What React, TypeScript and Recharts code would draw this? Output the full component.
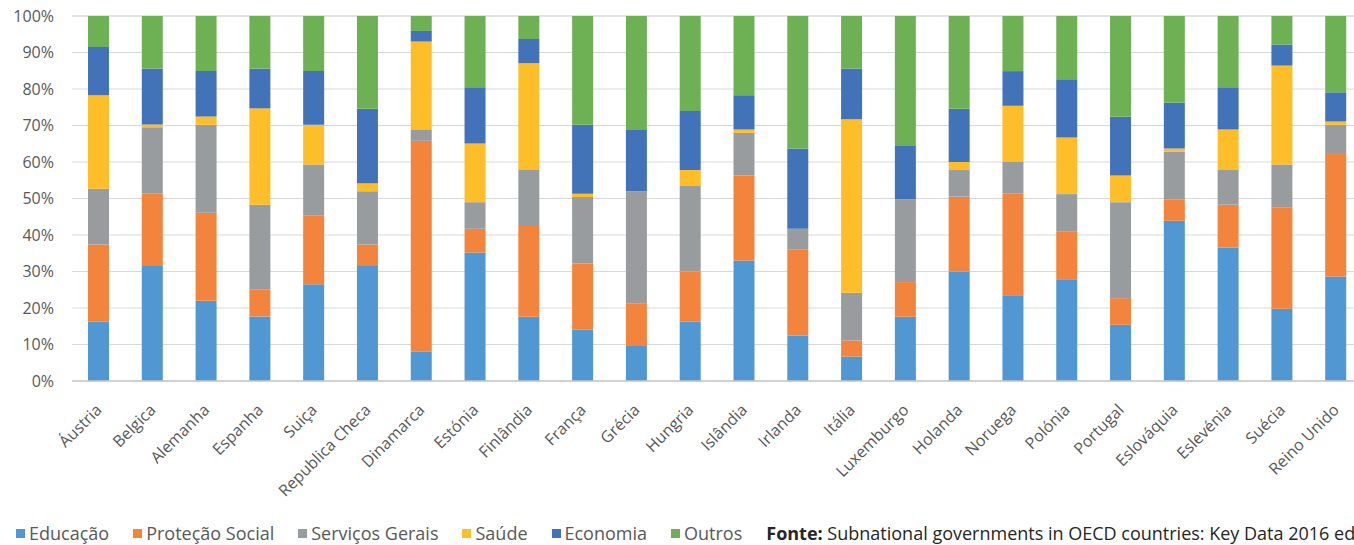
import React from 'react';
import { BarChart, Bar, XAxis, YAxis, CartesianGrid, Legend } from 'recharts';

const countries = [
  'Áustria', 'Belgica', 'Alemanha', 'Espanha', 'Suiça', 'Republica Checa', 'Dinamarca', 'Estónia',
  'Finlândia', 'França', 'Grécia', 'Hungria', 'Islândia', 'Irlanda', 'Itália', 'Luxemburgo',
  'Holanda', 'Noruega', 'Polónia', 'Portugal', 'Eslováquia', 'Eslevénia', 'Suécia', 'Reino Unido',
];

const educacao = [16.2, 31.5, 22.0, 17.7, 26.5, 31.5, 8.1, 35.2, 17.6, 14.1, 9.6, 16.2, 33.0, 12.5, 6.7, 17.6, 30.0, 23.5, 27.9, 15.4, 43.9, 36.6, 19.8, 28.6];
const protecaoSocial = [21.2, 19.8, 24.1, 7.3, 18.9, 5.9, 57.7, 6.5, 24.9, 18.1, 11.7, 13.8, 23.3, 23.5, 4.4, 9.5, 20.5, 27.8, 13.1, 7.3, 5.9, 11.7, 27.8, 33.6];
const servicosGerais = [15.3, 18.2, 24.1, 23.3, 13.9, 14.6, 3.0, 7.3, 15.3, 18.2, 30.7, 23.4, 11.7, 5.7, 13.1, 22.7, 7.3, 8.7, 10.2, 26.3, 13.1, 9.5, 11.7, 8.0];
const saude = [25.6, 0.8, 2.3, 26.4, 10.9, 2.2, 24.2, 16.1, 29.3, 0.9, 0, 4.4, 0.9, 0, 47.5, 0, 2.2, 15.4, 15.5, 7.3, 0.8, 11.1, 27.1, 0.9];
const economia = [13.2, 15.3, 12.4, 10.9, 14.7, 20.4, 2.9, 15.4, 6.6, 18.9, 16.8, 16.2, 9.4, 22.0, 13.9, 14.6, 14.6, 9.5, 16.0, 16.1, 12.5, 11.6, 5.8, 8.0];
const outros = [8.5, 14.4, 15.1, 14.4, 15.1, 25.4, 4.1, 19.5, 6.3, 29.8, 31.2, 26.0, 21.7, 36.3, 14.4, 35.6, 25.4, 15.1, 17.3, 27.6, 23.8, 19.5, 7.8, 20.9];

const yTicks = [0, 10, 20, 30, 40, 50, 60, 70, 80, 90, 100];

const SERIES = [
  { key: 'educacao', name: 'Educação', color: '#5197D2' },
  { key: 'protecao', name: 'Proteção Social', color: '#F2843D' },
  { key: 'servicos', name: 'Serviços Gerais', color: '#999C9F' },
  { key: 'saude', name: 'Saúde', color: '#FEBE29' },
  { key: 'economia', name: 'Economia', color: '#4273B8' },
  { key: 'outros', name: 'Outros', color: '#6EB155' },
];

const data = countries.map((c, i) => ({
  country: c,
  educacao: educacao[i],
  protecao: protecaoSocial[i],
  servicos: servicosGerais[i],
  saude: saude[i],
  economia: economia[i],
  outros: outros[i],
}));

const FONT = '"Open Sans", Lato, sans-serif';

const CountryTick: React.FC<any> = ({ x, y, payload }) => (
  <g transform={`translate(${x + 4},${y + 28})`}>
    <text
      x={0}
      y={0}
      textAnchor="end"
      transform="rotate(-45)"
      fill="#595959"
      fontSize={16}
      fontFamily={FONT}
    >
      {payload.value}
    </text>
  </g>
);

const LegendContent: React.FC<any> = () => (
  <div style={{ display: 'flex', alignItems: 'center', fontFamily: FONT, fontSize: 18, whiteSpace: 'nowrap' }}>
    {SERIES.map(s => (
      <div key={s.key} style={{ display: 'flex', alignItems: 'center', marginRight: 24, color: '#595959' }}>
        <span style={{ width: 9, height: 9, background: s.color, display: 'inline-block', marginRight: 4 }} />
        <span>{s.name}</span>
      </div>
    ))}
    <div style={{ color: '#262626' }}>
      <b>Fonte:</b> Subnational governments in OECD countries: Key Data 2016 ed
    </div>
  </div>
);

export default function App() {
  return (
    <div style={{ position: 'absolute', left: 0, top: 0, width: 1354, height: 545, overflow: 'hidden', background: '#fff' }}>
      <BarChart
        width={1363}
        height={545}
        data={data}
        margin={{ top: 16, right: 0, bottom: 0, left: 0 }}
        barSize={21}
      >
        <CartesianGrid vertical={false} stroke="#d9d9d9" strokeWidth={1} />
        <XAxis
          dataKey="country"
          interval={0}
          height={164}
          tickLine={false}
          tickSize={0}
          axisLine={{ stroke: '#c8c8c8', strokeWidth: 1.5 }}
          tick={<CountryTick />}
        />
        <YAxis
          width={72}
          domain={[0, 100]}
          ticks={yTicks}
          tickFormatter={(v) => `${v}%`}
          axisLine={false}
          tickLine={false}
          tickSize={0}
          tickMargin={18}
          tick={{ fill: '#595959', fontSize: 16, fontFamily: FONT }}
        />
        <Legend
          layout="horizontal"
          verticalAlign="middle"
          content={<LegendContent />}
          wrapperStyle={{ top: 521, left: 16, width: 1400, height: 27 }}
        />
        {SERIES.map(s => (
          <Bar key={s.key} dataKey={s.key} name={s.name} stackId="a" fill={s.color} isAnimationActive={false} />
        ))}
      </BarChart>
    </div>
  );
}
